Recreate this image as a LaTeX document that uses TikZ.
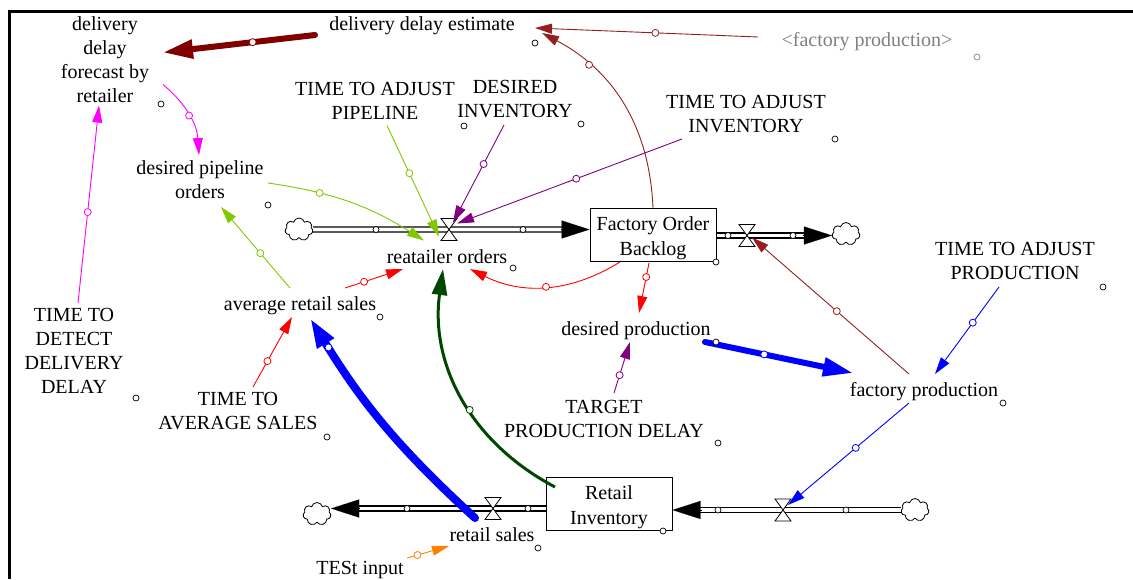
\documentclass[tikz,border=0pt]{standalone}
\usepackage{fontspec}
\setmainfont{Liberation Serif}
\usetikzlibrary{arrows.meta,calc,shapes.symbols}
\definecolor{vmaroon}{RGB}{128,0,0}
\definecolor{vthin}{RGB}{150,30,30}
\definecolor{vmagenta}{RGB}{255,0,255}
\definecolor{vgreen}{RGB}{128,200,0}
\definecolor{vpurple}{RGB}{128,0,128}
\definecolor{vdkgreen}{RGB}{0,70,0}
\definecolor{vorange}{RGB}{255,128,0}
\definecolor{vgray}{RGB}{128,128,128}
\tikzset{
  var/.style={align=center,inner sep=0pt,font=\fontsize{20}{24}\selectfont,
    execute at begin node={\rule{0pt}{18.5pt}}},
  stocktext/.style={align=center,inner sep=0pt,font=\fontsize{20}{25.5}\selectfont,yshift=-3pt},
  stock/.style={draw,line width=1pt,minimum width=126pt,minimum height=53pt,inner sep=0pt},
  cloudy/.style={cloud,cloud puffs=7,aspect=1.25,draw,fill=white,line width=0.8pt,minimum width=28pt,minimum height=23pt,inner sep=0pt},
  pipe/.style={double,double distance=3.8pt,line width=1.2pt,shorten >=27pt},
  pipehead/.style={line width=0.1pt,-{Triangle[length=28pt,width=18pt]}},
  lnk/.style={line width=0.9pt,-{Triangle[length=17pt,width=10pt]}},
  fatlnk/.style={line cap=round,-{Triangle[length=30pt,width=18pt]}},
  hnd/.style={circle,draw,fill=white,inner sep=0pt,minimum size=7pt,line width=0.8pt},
  dot/.style={circle,draw,fill=white,inner sep=0pt,minimum size=6pt,line width=0.7pt},
  valve/.pic={\draw[fill=white,line width=0.8pt] (-8,11) -- (8,11) -- (-8,-11) -- (8,-11) -- cycle;}
}
\begin{document}
\begin{tikzpicture}[x=1pt,y=1pt]
  \useasboundingbox (0,0) rectangle (1133,-579);
  \draw[line width=3pt] (9.5,-579) -- (9.5,-11.5) -- (1133,-11.5);

  % variables
  \node[var] (ddest) at (422,-23) {delivery delay estimate};
  \node[var] (ddfore) at (105,-59.5) {delivery\\delay\\forecast by\\retailer};
  \node[var,text=vgray] (fpsh) at (867,-39) {\textless factory production\textgreater};
  \node[var] (tap) at (375,-100.5) {TIME TO ADJUST\\PIPELINE};
  \node[var] (dinv) at (515,-99) {DESIRED\\INVENTORY};
  \node[var] (tai) at (746,-114) {TIME TO ADJUST\\INVENTORY};
  \node[var] (dpo) at (200,-180) {desired pipeline\\orders};
  \node[var] (rord) at (447,-254) {reatailer orders};
  \node[var] (ars) at (300,-303) {average retail sales};
  \node[var] (ttdd) at (74,-351) {TIME TO\\DETECT\\DELIVERY\\DELAY};
  \node[var] (tas) at (238,-411) {TIME TO\\AVERAGE SALES};
  \node[var] (dprod) at (636,-328) {desired production};
  \node[var] (tpd) at (604,-419) {TARGET\\PRODUCTION DELAY};
  \node[var] (fprod) at (924,-389) {factory production};
  \node[var] (tapr) at (1015,-261) {TIME TO ADJUST\\PRODUCTION};
  \node[var] (rsales) at (492,-532.5) {retail sales};
  \node[var] (tin) at (360,-567) {TESt input};

  % stocks, clouds, valves
  \node[stock,label={[stocktext]center:{Factory Order\\Backlog}}] (fob) at (653,-235) {};
  \node[stock,label={[stocktext]center:{Retail\\Inventory}}] (rinv) at (609,-504) {};
  \node[cloudy] (cA) at (299,-229.5) {};
  \node[cloudy] (cB) at (846,-234) {};
  \node[cloudy] (cC) at (915,-510) {};
  \node[cloudy] (cD) at (317,-514) {};
  \coordinate (vA) at (449,-229.5);
  \coordinate (vB) at (747,-235.5);
  \coordinate (vC) at (783,-510);
  \coordinate (vD) at (493,-508.5);

  % flows
  \draw[pipe] (cA.east) -- (cA -| fob.west);
  \draw[pipehead] ($(cA -| fob.west)+(-29,0)$) -- (cA -| fob.west);
  \draw[pipe] (vB -| fob.east) -- (vB -| cB.west);
  \draw[pipehead] ($(vB -| cB.west)+(-29,0)$) -- (vB -| cB.west);
  \draw[pipe] (vC -| cC.west) -- (vC -| rinv.east);
  \draw[pipehead] ($(vC -| rinv.east)+(29,0)$) -- (vC -| rinv.east);
  \draw[pipe] (vD -| rinv.west) -- (vD -| cD.east);
  \draw[pipehead] ($(vD -| cD.east)+(29,0)$) -- (vD -| cD.east);
  \foreach \v in {vA,vB,vC,vD} \pic at (\v) {valve};
  \foreach \x/\y in {376/229.5,523/229.5,728/235.5,793/235.5,407/508.5,528/508.5,718/510,846/510}
    \node[dot] (p\x) at (\x,-\y) {};

  % links
  \draw[fatlnk,vmaroon,line width=6pt] ($(ddest)+(-107,-12)$) -- node[hnd,pos=.41] (h1) {} ($(ddfore)+(58,7)$);
  \draw[lnk,vthin] ($(fpsh)+(-109,2)$) -- node[hnd,pos=.46] (h2) {} ($(ddest)+(113,-5)$);
  \draw[lnk,vthin] (fob.north) to[bend right=30] node[hnd,pos=.75] (h3) {} ($(ddest)+(120,-10)$);
  \draw[lnk,vmagenta] ($(ddfore)+(58,-25)$) to[bend left=23] node[hnd] (h4) {} ($(dpo)+(-1,25)$);
  \draw[lnk,vmagenta] ($(ttdd)+(4,48)$) -- node[hnd,pos=.46] (h5) {} ($(ddfore)+(-6,-46)$);
  \draw[lnk,vgreen] ($(tap)+(12,-25)$) -- node[hnd,pos=.43] (h6) {} ($(vA)+(-10,-7)$);
  \draw[lnk,vgreen] ($(dpo)+(68,-3)$) to[bend left=12] node[hnd,pos=.3] (h7) {} ($(vA)+(-25,-11)$);
  \draw[lnk,vgreen] ($(ars)+(-10,15)$) -- node[hnd,pos=.43] (h8) {} ($(dpo)+(21,-27)$);
  \draw[lnk,vpurple] ($(dinv)+(-11,-26)$) -- node[hnd,pos=.4] (h9) {} ($(vA)+(4,7)$);
  \draw[lnk,vpurple] ($(tai)+(-64,-25)$) -- node[hnd,pos=.47] (h10) {} ($(vA)+(8,6)$);
  \draw[lnk,red] ($(ars)+(45,15)$) -- node[hnd,pos=.33] (h11) {} ($(rord)+(-44,-15)$);
  \draw[lnk,red] ($(fob)+(-33,-27)$) to[bend left=29] node[hnd] (h12) {} ($(rord)+(23,-15)$);
  \draw[lnk,red] ($(fob)+(-4,-28)$) -- node[hnd,pos=.28] (h13) {} ($(dprod)+(3,15)$);
  \draw[lnk,red] ($(tas)+(15,24)$) -- node[hnd,pos=.37] (h14) {} ($(ars)+(-8,-14)$);
  \draw[fatlnk,blue,line width=8pt] ($(rsales)+(-17,14.5)$) to[bend left=8] node[hnd,pos=.88] (h15) {} ($(ars)+(10,-15)$);
  \draw[-{Triangle[length=26pt,width=15pt]},vdkgreen,line width=3pt] ($(rinv)+(-54,17)$) to[bend left=35] node[hnd,pos=.44] (h16) {} ($(rord)+(-4,-15)$);
  \draw[lnk,vpurple] ($(tpd)+(10,26)$) -- node[hnd,pos=.35] (h17) {} ($(dprod)+(-6,-14)$);
  \draw[fatlnk,blue,line width=6pt] ($(dprod)+(69,-14)$) -- node[hnd,pos=.4] (h18) {} ($(fprod)+(-71,16)$);
  \draw[lnk,vthin] ($(fprod)+(-15,15)$) -- node[hnd,pos=.46] (h19) {} ($(vB)+(5,-2)$);
  \draw[lnk,blue] ($(tapr)+(-16,-26)$) -- node[hnd,pos=.41] (h20) {} ($(fprod)+(11,15)$);
  \draw[lnk,blue] ($(fprod)+(-15,-14)$) -- node[hnd,pos=.44] (h21) {} ($(vC)+(5,5)$);
  \draw[lnk,vorange] ($(tin)+(47,9)$) -- node[hnd,pos=.25] (h22) {} ($(rsales)+(-43,-13.5)$);

  % bullets beside the variables
  \foreach \x/\y [count=\i] in {535/43,161/104,464/126,581/124,835/139,268/205,513/268,716/262,380/317,136/398,327/437,716/342,1103/287,1003/403,718/443,663/531,538/548}
    \node[dot] (b\i) at (\x,-\y) {};
  \node[dot,draw=vgray] (bfp) at (977,-57) {};
\end{tikzpicture}
\end{document}
